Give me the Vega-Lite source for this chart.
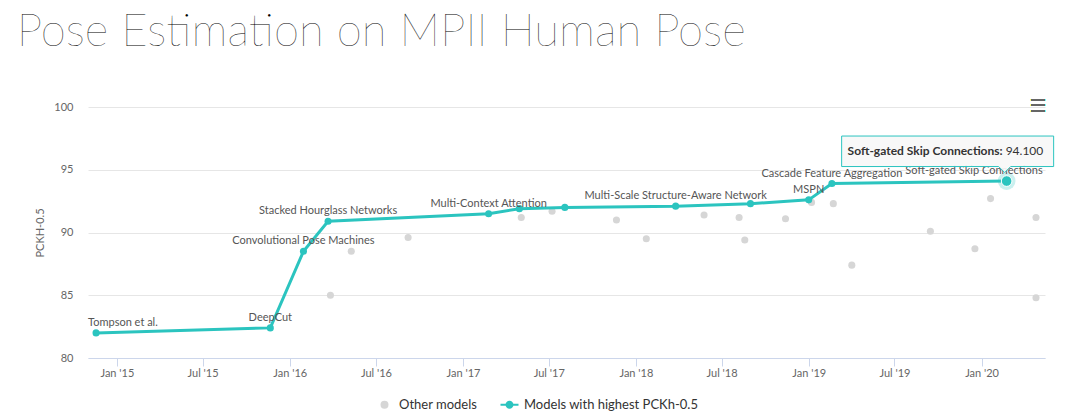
{
  "$schema": "https://vega.github.io/schema/vega-lite/v6.json",
  "width": 957,
  "height": 251,
  "autosize": "none",
  "padding": {"left": 88, "top": 107, "right": 35, "bottom": 62},
  "background": "white",
  "title": {"text": "Pose Estimation on MPII Human Pose", "anchor": "start", "font": "Lato", "fontSize": 45.5, "fontWeight": 200, "color": "#000000", "dx": -18, "offset": 7, "baseline": "alphabetic"},
  "data": {
    "values": [
      {"date": "2014-11-18", "value": 82.0, "model": "Tompson et al.", "label": "Tompson et al.", "type": "Models with highest PCKh-0.5"},
      {"date": "2015-11-21", "value": 82.4, "model": "DeepCut", "label": "DeepCut", "type": "Models with highest PCKh-0.5"},
      {"date": "2016-01-30", "value": 88.5, "model": "Convolutional Pose Machines", "label": "Convolutional Pose Machines", "type": "Models with highest PCKh-0.5"},
      {"date": "2016-03-22", "value": 90.9, "model": "Stacked Hourglass Networks", "label": "Stacked Hourglass Networks", "type": "Models with highest PCKh-0.5"},
      {"date": "2017-02-24", "value": 91.5, "model": "Multi-Context Attention", "label": "Multi-Context Attention", "type": "Models with highest PCKh-0.5"},
      {"date": "2017-04-30", "value": 91.9, "model": "SOTA 2017-04", "label": "", "type": "Models with highest PCKh-0.5"},
      {"date": "2017-08-04", "value": 92.0, "model": "SOTA 2017-08", "label": "", "type": "Models with highest PCKh-0.5"},
      {"date": "2018-03-26", "value": 92.1, "model": "Multi-Scale Structure-Aware Network", "label": "Multi-Scale Structure-Aware Network", "type": "Models with highest PCKh-0.5"},
      {"date": "2018-08-31", "value": 92.3, "model": "SOTA 2018-08", "label": "", "type": "Models with highest PCKh-0.5"},
      {"date": "2019-01-01", "value": 92.6, "model": "MSPN", "label": "MSPN", "type": "Models with highest PCKh-0.5"},
      {"date": "2019-02-19", "value": 93.9, "model": "Cascade Feature Aggregation", "label": "Cascade Feature Aggregation", "type": "Models with highest PCKh-0.5"},
      {"date": "2020-02-23", "value": 94.1, "model": "Soft-gated Skip Connections", "label": "Soft-gated Skip Connections", "type": "Models with highest PCKh-0.5"},
      {"date": "2016-03-27", "value": 85.0, "model": "other", "label": "", "type": "Other models"},
      {"date": "2016-05-10", "value": 88.5, "model": "other", "label": "", "type": "Other models"},
      {"date": "2016-09-07", "value": 89.6, "model": "other", "label": "", "type": "Other models"},
      {"date": "2017-05-04", "value": 91.2, "model": "other", "label": "", "type": "Other models"},
      {"date": "2017-07-08", "value": 91.7, "model": "other", "label": "", "type": "Other models"},
      {"date": "2017-11-21", "value": 91.0, "model": "other", "label": "", "type": "Other models"},
      {"date": "2018-01-23", "value": 89.5, "model": "other", "label": "", "type": "Other models"},
      {"date": "2018-05-25", "value": 91.4, "model": "other", "label": "", "type": "Other models"},
      {"date": "2018-08-07", "value": 91.2, "model": "other", "label": "", "type": "Other models"},
      {"date": "2018-08-19", "value": 89.4, "model": "other", "label": "", "type": "Other models"},
      {"date": "2018-11-13", "value": 91.1, "model": "other", "label": "", "type": "Other models"},
      {"date": "2019-01-07", "value": 92.4, "model": "other", "label": "", "type": "Other models"},
      {"date": "2019-02-22", "value": 92.3, "model": "other", "label": "", "type": "Other models"},
      {"date": "2019-04-02", "value": 87.4, "model": "other", "label": "", "type": "Other models"},
      {"date": "2019-09-15", "value": 90.1, "model": "other", "label": "", "type": "Other models"},
      {"date": "2019-12-18", "value": 88.7, "model": "other", "label": "", "type": "Other models"},
      {"date": "2020-01-20", "value": 92.7, "model": "other", "label": "", "type": "Other models"},
      {"date": "2020-04-25", "value": 91.2, "model": "other", "label": "", "type": "Other models"},
      {"date": "2020-04-25", "value": 84.8, "model": "other", "label": "", "type": "Other models"}
    ]
  },
  "encoding": {
    "x": {
      "field": "date", "type": "temporal",
      "scale": {"type": "utc", "domain": [{"year": 2014, "month": 11, "date": 1, "utc": true}, {"year": 2020, "month": 5, "date": 14, "utc": true}]},
      "axis": {
        "title": null, "format": "%b '%y", "grid": false,
        "values": [
          {"year": 2015, "month": 1, "date": 1, "utc": true}, {"year": 2015, "month": 7, "date": 1, "utc": true},
          {"year": 2016, "month": 1, "date": 1, "utc": true}, {"year": 2016, "month": 7, "date": 1, "utc": true},
          {"year": 2017, "month": 1, "date": 1, "utc": true}, {"year": 2017, "month": 7, "date": 1, "utc": true},
          {"year": 2018, "month": 1, "date": 1, "utc": true}, {"year": 2018, "month": 7, "date": 1, "utc": true},
          {"year": 2019, "month": 1, "date": 1, "utc": true}, {"year": 2019, "month": 7, "date": 1, "utc": true},
          {"year": 2020, "month": 1, "date": 1, "utc": true}
        ],
        "domainColor": "#ccd6eb", "tickColor": "#ccd6eb", "tickSize": 8, "labelPadding": 1,
        "labelColor": "#666666", "labelFontSize": 11, "labelFont": "Lato", "labelFlush": false
      }
    },
    "y": {
      "field": "value", "type": "quantitative",
      "scale": {"domain": [80, 100], "nice": false, "zero": false},
      "axis": {
        "title": "PCKH-0.5", "titleFont": "Lato", "titleFontSize": 11, "titleFontWeight": "normal", "titleColor": "#666666", "titlePadding": 8,
        "values": [80, 85, 90, 95, 100], "grid": true, "gridColor": "#e6e6e6", "domain": false, "ticks": false,
        "labelPadding": 15, "labelColor": "#666666", "labelFontSize": 11, "labelFont": "Lato"
      }
    }
  },
  "layer": [
    {
      "transform": [{"filter": "datum.type === 'Other models'"}],
      "mark": {"type": "circle", "size": 50, "opacity": 1},
      "encoding": {
        "color": {
          "field": "type", "type": "nominal",
          "scale": {"domain": ["Other models", "Models with highest PCKh-0.5"], "range": ["#d6d6d6", "#2bc4bf"]},
          "legend": {
            "title": null, "orient": "none", "legendX": 290, "legendY": 291, "direction": "horizontal",
            "symbolSize": 64, "labelFontSize": 13, "labelFont": "Lato", "labelColor": "#333333", "labelOffset": 8, "columnPadding": 22,
            "labelLimit": 400, "symbolOpacity": 1,
            "encode": {"symbols": {"update": {"shape": {"signal": "datum.value === 'Other models' ? 'circle' : 'M-2.25,-0.25 L2.25,-0.25 L2.25,0.25 L-2.25,0.25 Z M-1,0 A1,1 0 1,1 1,0 A1,1 0 1,1 -1,0 Z'"}}}}
          }
        }
      }
    },
    {
      "transform": [{"filter": "datum.type !== 'Other models'"}],
      "mark": {"type": "line", "color": "#2bc4bf", "strokeWidth": 3}
    },
    {
      "transform": [{"filter": "datum.type !== 'Other models'"}],
      "mark": {"type": "circle", "size": 50, "opacity": 1},
      "encoding": {"color": {"field": "type", "type": "nominal"}}
    },
    {
      "transform": [{"filter": "datum.model === 'Soft-gated Skip Connections'"}],
      "mark": {"type": "circle", "size": 314, "opacity": 0.25, "color": "#2bc4bf"}
    },
    {
      "transform": [{"filter": "datum.model === 'Soft-gated Skip Connections'"}],
      "mark": {"type": "circle", "size": 113, "opacity": 1, "color": "#2bc4bf", "stroke": "white", "strokeWidth": 1}
    },
    {
      "transform": [{"filter": "datum.label !== '' && datum.model !== 'Tompson et al.' && datum.model !== 'Soft-gated Skip Connections'"}],
      "mark": {"type": "text", "baseline": "bottom", "dy": -5, "font": "Lato", "fontSize": 11, "color": "#555555"},
      "encoding": {"text": {"field": "label"}}
    },
    {
      "transform": [{"filter": "datum.model === 'Tompson et al.'"}],
      "mark": {"type": "text", "align": "left", "dx": -8, "baseline": "bottom", "dy": -5, "font": "Lato", "fontSize": 11, "color": "#555555"},
      "encoding": {"text": {"field": "label"}}
    },
    {
      "transform": [{"filter": "datum.model === 'Soft-gated Skip Connections'"}],
      "mark": {"type": "text", "align": "right", "dx": 36, "baseline": "bottom", "dy": -5, "font": "Lato", "fontSize": 11, "color": "#555555"},
      "encoding": {"text": {"field": "label"}}
    },
    {
      "transform": [{"filter": "datum.model === 'Soft-gated Skip Connections'"}],
      "mark": {"type": "point", "shape": "M-165,-45 L47,-45 L47,-14.5 L4,-14.5 L-2,-8.5 L-8,-14.5 L-165,-14.5 Z", "size": 4, "filled": true, "fill": "#f7f7f7", "fillOpacity": 0.92, "stroke": "#2bc4bf", "strokeWidth": 1, "opacity": 1}
    },
    {
      "transform": [{"filter": "datum.model === 'Soft-gated Skip Connections'"}],
      "mark": {"type": "text", "text": "Soft-gated Skip Connections:", "align": "right", "dx": -4, "dy": -30, "baseline": "middle", "font": "Lato", "fontSize": 12, "fontWeight": "bold", "color": "#333333"}
    },
    {
      "transform": [{"filter": "datum.model === 'Soft-gated Skip Connections'"}],
      "mark": {"type": "text", "align": "left", "dx": -1, "dy": -30, "baseline": "middle", "font": "Lato", "fontSize": 12, "color": "#333333"},
      "encoding": {"text": {"field": "value", "type": "quantitative", "format": ".3f"}}
    },
    {
      "mark": {"type": "text", "text": "☰", "font": "DejaVu Sans", "fontSize": 18, "color": "#666666", "baseline": "middle"},
      "encoding": {
        "x": {"datum": {"year": 2020, "month": 4, "date": 29, "utc": true}, "type": "temporal"},
        "y": {"datum": 100, "type": "quantitative"}
      }
    }
  ],
  "config": {"view": {"stroke": null}}
}
